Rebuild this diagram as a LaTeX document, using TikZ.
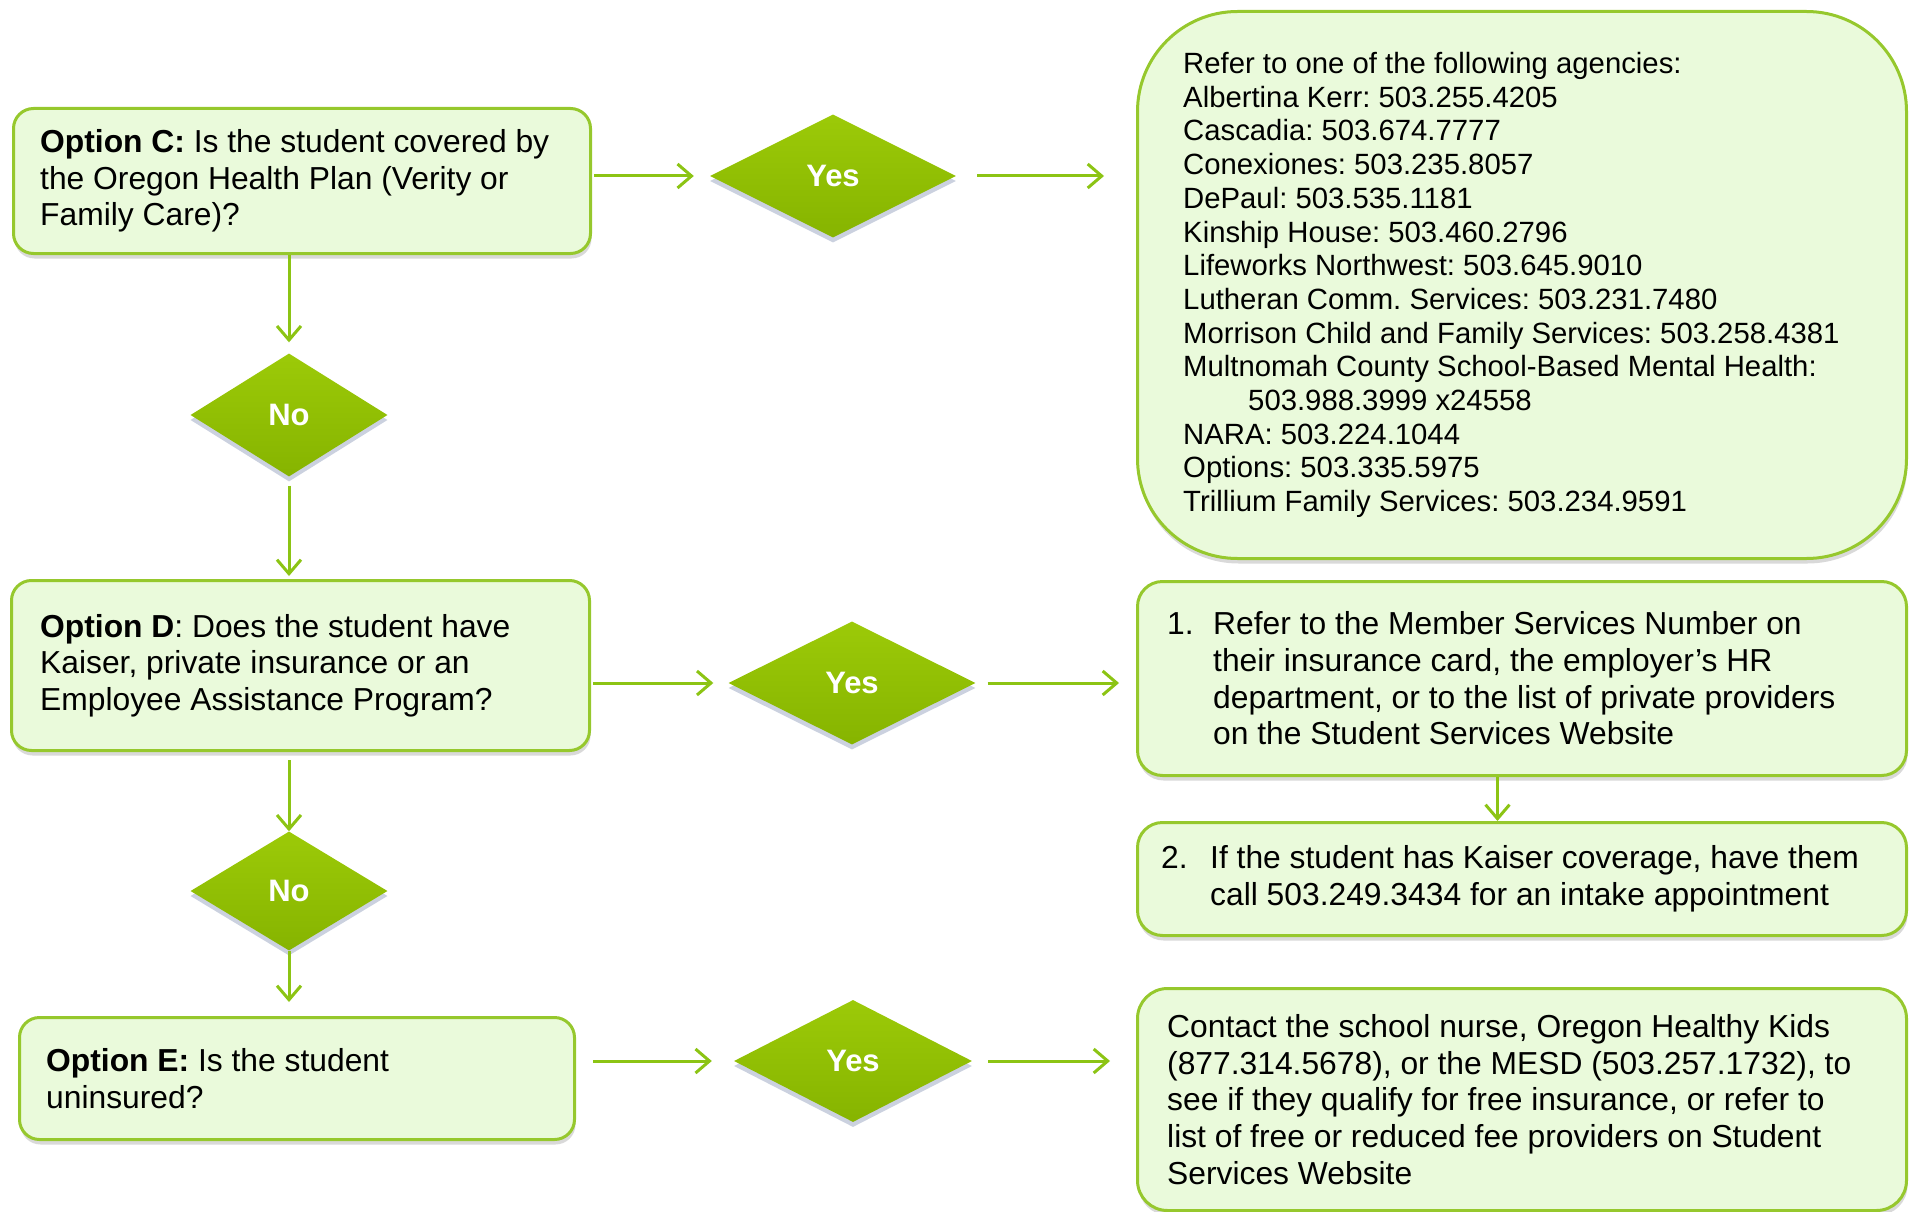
\documentclass[tikz,border=0pt]{standalone}
\usepackage{fontspec}
\setmainfont{Liberation Sans}
\usetikzlibrary{shapes.geometric,arrows.meta,shadows}
\definecolor{boxfill}{RGB}{234,250,219}
\definecolor{boxline}{RGB}{150,200,45}
\definecolor{arrowc}{RGB}{140,196,20}
\definecolor{dtop}{RGB}{156,202,8}
\definecolor{dbot}{RGB}{134,180,0}
\definecolor{dshadow}{RGB}{190,198,215}
\begin{document}
\frenchspacing
\begin{tikzpicture}[x=1pt,y=-1pt,
  box/.style={draw=boxline, line width=3pt, fill=boxfill, rounded corners=20pt,
    anchor=north west, inner sep=0pt,
    drop shadow={shadow xshift=1pt, shadow yshift=-5pt, fill=black, opacity=0.15}},
  txt/.style={anchor=west, align=left, inner sep=0pt, font=\fontsize{31.8}{36.6}\selectfont},
  dia/.style={diamond, inner sep=0pt, top color=dtop, bottom color=dbot, draw=none,
    text=white, font=\fontsize{31}{36}\selectfont\bfseries,
    drop shadow={shadow xshift=0pt, shadow yshift=-5pt, fill=dshadow, opacity=0.8}},
  arr/.style={draw=arrowc, line width=3pt, -{Straight Barb[length=14pt,width=24pt]}}
]
\useasboundingbox (0,0) rectangle (1912,1212);

% left column boxes
\node[box, minimum width=577pt, minimum height=145pt] (optC) at (12,107) {};
\node[txt] (optCt) at ([xshift=28pt]optC.west) {\textbf{Option C:} Is the student covered by\\the Oregon Health Plan (Verity or\\Family Care)?};

\node[box, minimum width=578pt, minimum height=170pt] (optD) at (10,579) {};
\node[txt] (optDt) at ([xshift=30pt]optD.west) {\textbf{Option D}: Does the student have\\Kaiser, private insurance or an\\Employee Assistance Program?};

\node[box, minimum width=555pt, minimum height=122pt] (optE) at (18,1016) {};
\node[txt] (optEt) at ([xshift=28pt]optE.west) {\textbf{Option E:} Is the student\\uninsured?};

% right column boxes
\node[box, rounded corners=100pt, minimum width=769pt, minimum height=547pt] (agency) at (1136,10) {};
\node[txt, font=\fontsize{29.3}{33.7}\selectfont] (agencyt) at ([xshift=47pt]agency.west) {Refer to one of the following agencies:\\
Albertina Kerr: 503.255.4205\\
Cascadia: 503.674.7777\\
Conexiones: 503.235.8057\\
DePaul: 503.535.1181\\
Kinship House: 503.460.2796\\
Lifeworks Northwest: 503.645.9010\\
Lutheran Comm. Services: 503.231.7480\\
Morrison Child and Family Services: 503.258.4381\\
Multnomah County School-Based Mental Health:\\
\hspace*{65pt}503.988.3999 x24558\\
NARA: 503.224.1044\\
Options: 503.335.5975\\
Trillium Family Services: 503.234.9591};

\node[box, rounded corners=25pt, minimum width=769pt, minimum height=194pt] (box1) at (1136,580) {};
\node[txt] (box1t) at ([xshift=31pt]box1.west) {\makebox[46pt][l]{1.}Refer to the Member Services Number on\\
\hspace*{46pt}their insurance card, the employer’s HR\\
\hspace*{46pt}department, or to the list of private providers\\
\hspace*{46pt}on the Student Services Website};

\node[box, rounded corners=25pt, minimum width=769pt, minimum height=113pt] (box2) at (1136,821) {};
\node[txt] (box2t) at ([xshift=25pt]box2.west) {\makebox[49pt][l]{2.}If the student has Kaiser coverage, have them\\
\hspace*{49pt}call 503.249.3434 for an intake appointment};

\node[box, rounded corners=30pt, minimum width=769pt, minimum height=222pt] (box3) at (1136,987) {};
\node[txt] (box3t) at ([xshift=31pt]box3.west) {Contact the school nurse, Oregon Healthy Kids\\
(877.314.5678), or the MESD (503.257.1732), to\\
see if they qualify for free insurance, or refer to\\
list of free or reduced fee providers on Student\\
Services Website};

% diamonds
\node[dia, minimum width=246pt, minimum height=123pt] (yes1) at (833,176) {Yes};
\node[dia, minimum width=247pt, minimum height=123pt] (yes2) at (852,683) {Yes};
\node[dia, minimum width=238pt, minimum height=122pt] (yes3) at (853,1061) {Yes};
\node[dia, minimum width=197pt, minimum height=123pt] (no1) at (289,415) {No};
\node[dia, minimum width=197pt, minimum height=119pt] (no2) at (289,891) {No};

% connectors
\draw[arr, shorten <=2pt, shorten >=16pt] (optC.east |- yes1) -- (yes1.west);
\draw[arr, shorten <=21pt, shorten >=32pt] (yes1.east) -- (yes1.east -| agency.west);
\draw[arr, shorten <=2pt, shorten >=15pt] (optD.east |- yes2) -- (yes2.west);
\draw[arr, shorten <=12pt, shorten >=17pt] (yes2.east) -- (yes2.east -| box1.west);
\draw[arr, shorten <=17pt, shorten >=22pt] (optE.east |- yes3) -- (yes3.west);
\draw[arr, shorten <=16pt, shorten >=26pt] (yes3.east) -- (yes3.east -| box3.west);

\draw[arr, shorten >=11pt] (optC.south -| no1) -- (no1.north);
\draw[arr, shorten <=9pt, shorten >=3pt] (no1.south) -- (no1.south |- optD.north);
\draw[arr, shorten <=8pt] (optD.south -| no2) -- (no2.north);
\draw[arr, shorten >=14pt] (no2.south) -- (no2.south |- optE.north);
\draw[arr] ([xshift=-24.5pt]box1.south) -- ([xshift=-24.5pt]box1.south |- box2.north);
\end{tikzpicture}
\end{document}
